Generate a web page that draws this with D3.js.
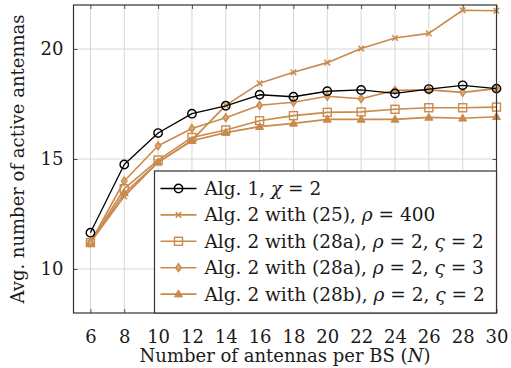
<!DOCTYPE html>
<html>
<head>
<meta charset="utf-8">
<script src="https://cdn.jsdelivr.net/npm/d3@7"></script>
<style>
	body { margin: 0; background: #fff; }
	svg { display: block; }
</style>
</head>
<body>
<svg id="chart" width="511" height="368"></svg>
<script>
// x values, number of antennas per BS
const antennas = [6, 8, 10, 12, 14, 16, 18, 20, 22, 24, 26, 28, 30]

// series values
const alg1      = [11.65, 14.75, 16.18, 17.06, 17.42, 17.92, 17.83, 18.08, 18.14, 17.98, 18.18, 18.35, 18.2]
const alg2eq25  = [11.2, 13.3, 14.85, 15.86, 17.44, 18.44, 18.94, 19.38, 20.02, 20.5, 20.71, 21.76, 21.74]
const alg2eq28a2 = [11.2, 13.65, 14.95, 15.98, 16.32, 16.74, 16.97, 17.12, 17.14, 17.26, 17.33, 17.33, 17.36]
const alg2eq28a3 = [11.2, 14.0, 15.6, 16.39, 16.88, 17.44, 17.58, 17.85, 17.74, 18.12, 18.14, 18.03, 18.2]
const alg2eq28b = [11.2, 13.45, 14.85, 15.83, 16.2, 16.47, 16.62, 16.8, 16.8, 16.8, 16.89, 16.85, 16.92]

const xTicks = [6, 8, 10, 12, 14, 16, 18, 20, 22, 24, 26, 28, 30]
const yTicks = [10, 15, 20]

const legendLabels = [
	["Alg. 1, ", "χ", " = 2"],
	["Alg. 2 with (25), ", "ρ", " = 400"],
	["Alg. 2 with (28a), ", "ρ", " = 2, ", "ς", " = 2"],
	["Alg. 2 with (28a), ", "ρ", " = 2, ", "ς", " = 3"],
	["Alg. 2 with (28b), ", "ρ", " = 2, ", "ς", " = 2"]
]

const fontSerif = "DejaVu Serif"
const textColor = "#1a1a1a"
const orange = "#c98a4c"
const series = [
	{values: alg1, color: "#000", marker: "circle", width: 1.3},
	{values: alg2eq25, color: orange, marker: "cross", width: 1.6},
	{values: alg2eq28a2, color: orange, marker: "square", width: 1.6},
	{values: alg2eq28a3, color: orange, marker: "diamond", width: 1.6},
	{values: alg2eq28b, color: orange, marker: "triangle", width: 1.6}
]

const svg = d3.select("#chart")
const mLeft = 73.5, mRight = 496.5, mTop = 5, mBottom = 313

const xScale = d3.scaleLinear().domain([5, 30]).range([mLeft, mRight])
const yScale = d3.scaleLinear().domain([8, 22]).range([mBottom, mTop])

// grid
const grid = svg.append("g")
grid.selectAll(".vg").data(xTicks).join("line")
	.attr("x1", d => xScale(d)).attr("x2", d => xScale(d))
	.attr("y1", mTop).attr("y2", mBottom)
	.attr("stroke", "#d6d6d6").attr("stroke-width", 1)
grid.selectAll(".hg").data(yTicks).join("line")
	.attr("x1", mLeft).attr("x2", mRight)
	.attr("y1", d => yScale(d)).attr("y2", d => yScale(d))
	.attr("stroke", "#d6d6d6").attr("stroke-width", 1)

// axes with inward ticks
const xAxis = d3.axisBottom(xScale).tickValues(xTicks).tickSize(-4).tickPadding(17)
const yAxis = d3.axisLeft(yScale).tickValues(yTicks).tickSize(-4).tickPadding(10)

const xAxisGroup = svg.append("g")
	.attr("transform", "translate(0," + mBottom + ")")
	.call(xAxis)
const yAxisGroup = svg.append("g")
	.attr("transform", "translate(" + mLeft + ",0)")
	.call(yAxis)
svg.append("g")
	.attr("transform", "translate(0," + mTop + ")")
	.call(d3.axisTop(xScale).tickValues(xTicks).tickSize(-4).tickFormat(""))
svg.append("g")
	.attr("transform", "translate(" + mRight + ",0)")
	.call(d3.axisRight(yScale).tickValues(yTicks).tickSize(-4).tickFormat(""))

svg.selectAll(".domain").remove()
svg.selectAll(".tick line").attr("stroke", "#555").attr("stroke-width", 1)
xAxisGroup.attr("font-family", fontSerif).attr("font-size", 18)
xAxisGroup.selectAll("text").attr("fill", textColor)
yAxisGroup.attr("font-family", fontSerif).attr("font-size", 18)
yAxisGroup.selectAll("text").attr("fill", textColor)

// series
const line = d3.line().x((d, i) => xScale(antennas[i])).y(d => yScale(d))

function drawMarker(g, type, color){
	if (type == "circle"){
		g.append("circle").attr("r", 4.2).attr("fill", "none")
			.attr("stroke", color).attr("stroke-width", 1.4)
	} else if (type == "cross"){
		g.append("path").attr("d", "M-2.8,-2.8L2.8,2.8M-2.8,2.8L2.8,-2.8")
			.attr("stroke", color).attr("stroke-width", 1.5)
	} else if (type == "square"){
		g.append("rect").attr("x", -4).attr("y", -4).attr("width", 8).attr("height", 8)
			.attr("fill", "none").attr("stroke", color).attr("stroke-width", 1.4)
	} else if (type == "diamond"){
		g.append("path").attr("d", "M0,-4L2.8,0L0,4L-2.8,0Z")
			.attr("fill", "#d9a56f").attr("stroke", color).attr("stroke-width", 1.3)
	} else if (type == "triangle"){
		g.append("path").attr("d", "M0,-4.2L4,2.8L-4,2.8Z")
			.attr("fill", color).attr("stroke", color).attr("stroke-width", 1)
	}
}

// draw orange series first, black on top at the end
const order = [4, 2, 1, 3, 0]
order.forEach(k => {
	const s = series[k]
	const g = svg.append("g")
	g.append("path").datum(s.values)
		.attr("d", line)
		.attr("fill", "none")
		.attr("stroke", s.color)
		.attr("stroke-width", s.width)
		.attr("stroke-linejoin", "round")
	s.values.forEach((v, i) => {
		const mg = g.append("g")
			.attr("transform", "translate(" + xScale(antennas[i]) + "," + yScale(v) + ")")
		drawMarker(mg, s.marker, s.color)
	})
})

// frame
svg.append("rect")
	.attr("x", mLeft).attr("y", mTop)
	.attr("width", mRight - mLeft).attr("height", mBottom - mTop)
	.attr("fill", "none").attr("stroke", "#333").attr("stroke-width", 1.2)

// legend
const legX = 154.5, legY = 171, legW = mRight - legX, legH = mBottom - legY
const legend = svg.append("g")
legend.append("rect")
	.attr("x", legX).attr("y", legY).attr("width", legW).attr("height", legH)
	.attr("fill", "#fff").attr("stroke", "#333").attr("stroke-width", 1.2)

series.forEach((s, i) => {
	const y = legY + 17.5 + i * 26.4
	const row = legend.append("g")
	row.append("line")
		.attr("x1", legX + 6).attr("x2", legX + 42)
		.attr("y1", y).attr("y2", y)
		.attr("stroke", s.color).attr("stroke-width", s.width)
	const mg = row.append("g").attr("transform", "translate(" + (legX + 24) + "," + y + ")")
	drawMarker(mg, s.marker, s.color)
	const t = row.append("text")
		.attr("x", legX + 50).attr("y", y + 6.5)
		.attr("font-family", fontSerif)
		.attr("font-size", 18.5)
		.attr("fill", textColor)
	legendLabels[i].forEach(part => {
		const greek = part == "χ" || part == "ρ" || part == "ς"
		t.append("tspan").text(part).attr("font-style", greek ? "italic" : "normal")
	})
})

// axis labels
svg.append("text")
	.attr("x", (mLeft + mRight) / 2).attr("y", 362)
	.attr("text-anchor", "middle")
	.attr("font-family", fontSerif)
	.attr("font-size", 18)
	.attr("fill", textColor)
	.call(t => {
		t.append("tspan").text("Number of antennas per BS (")
		t.append("tspan").text("N").attr("font-style", "italic")
		t.append("tspan").text(")")
	})

svg.append("text")
	.attr("transform", "translate(24," + ((mTop + mBottom) / 2) + ") rotate(-90)")
	.attr("text-anchor", "middle")
	.attr("font-family", fontSerif)
	.attr("font-size", 18)
	.attr("fill", textColor)
	.text("Avg. number of active antennas")
</script>
</body>
</html>
